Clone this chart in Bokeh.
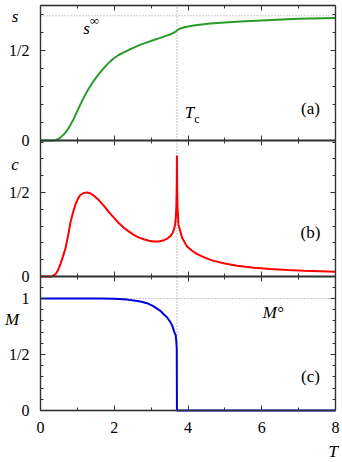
from bokeh.plotting import figure
from bokeh.models import FixedTicker, LinearAxis, Range1d, Label, BoxAnnotation
from bokeh.embed import file_html
from bokeh.resources import INLINE

# ---------------- data ----------------
T_s = [0.0, 0.30, 0.40, 0.47, 0.54, 0.63, 0.72, 0.81, 0.90, 0.99, 1.08, 1.17, 1.27,
       1.36, 1.45, 1.54, 1.63, 1.72, 1.81, 1.90, 1.99, 2.12, 2.26, 2.40, 2.53, 2.70,
       2.89, 3.07, 3.25, 3.40, 3.55, 3.63, 3.70, 3.78, 3.90, 4.15, 4.60, 5.00, 5.42,
       6.26, 7.00, 8.00]
s_vals = [0.0, 0.0, 0.002, 0.007, 0.016, 0.033, 0.056, 0.086, 0.12, 0.16, 0.199, 0.238,
          0.275, 0.305, 0.333, 0.358, 0.381, 0.403, 0.423, 0.441, 0.457, 0.475, 0.49,
          0.504, 0.516, 0.531, 0.545, 0.558, 0.570, 0.581, 0.592, 0.600, 0.611, 0.621,
          0.629, 0.639, 0.650, 0.656, 0.661, 0.670, 0.676, 0.681]

T_c = [0.0, 0.30, 0.41, 0.48, 0.54, 0.61, 0.68, 0.75, 0.81, 0.88, 0.95, 1.02, 1.08,
       1.17, 1.27, 1.36, 1.45, 1.58, 1.72, 1.85, 1.99, 2.12, 2.26, 2.40, 2.53, 2.66,
       2.80, 2.94, 3.07, 3.20, 3.35, 3.45, 3.53, 3.58, 3.62, 3.65, 3.67, 3.685, 3.695,
       3.70, 3.705, 3.715, 3.74, 3.84, 3.97, 4.10, 4.25, 4.50, 4.70, 5.00, 5.33, 5.80,
       6.23, 6.70, 7.14, 7.60, 8.00]
c_vals = [0.0, 0.0, 0.014, 0.04, 0.074, 0.12, 0.17, 0.245, 0.32, 0.38, 0.43, 0.465,
          0.485, 0.497, 0.50, 0.494, 0.48, 0.455, 0.42, 0.385, 0.35, 0.318, 0.29,
          0.267, 0.248, 0.233, 0.222, 0.213, 0.208, 0.208, 0.216, 0.227, 0.242, 0.258,
          0.28, 0.31, 0.35, 0.42, 0.55, 0.72, 0.55, 0.42, 0.31, 0.23, 0.18, 0.155,
          0.133, 0.108, 0.093, 0.077, 0.064, 0.052, 0.044, 0.038, 0.034, 0.031, 0.028]

T_M = [0.0, 1.00, 1.63, 2.00, 2.35, 2.53, 2.71, 2.89, 3.07, 3.25, 3.34, 3.43, 3.52,
       3.57, 3.63, 3.667, 3.685, 3.695, 3.70, 8.00]
M_vals = [1.0, 1.0, 0.999, 0.997, 0.99, 0.982, 0.973, 0.958, 0.93, 0.89, 0.86, 0.833,
          0.79, 0.76, 0.70, 0.67, 0.61, 0.55, 0.0, 0.0]

TC = 3.70        # critical temperature
S_INF = 0.693    # s at infinite T (ln 2)
M_0 = 1.0        # M at zero T

T_MIN, T_MAX = 0, 8
S_TOP, C_TOP, M_TOP = 0.75, 0.8095, 1.1964   # upper ends of the three panels

x_ticks = [0, 2, 4, 6, 8]
x_minor = [1, 3, 5, 7]
x_tick_labels = {0: "0", 2: "2", 4: "4", 6: "6", 8: "8"}
y_ticks_ab = [0, 0.5]
y_labels_ab = {0: "0", 0.5: "1/2"}
y_minor_a = [0.1, 0.2, 0.3, 0.4, 0.6, 0.7]
y_minor_b = [0.1, 0.2, 0.3, 0.4, 0.6, 0.7, 0.8]
y_ticks_c = [0, 0.5, 1]
y_labels_c = {0: "0", 0.5: "1/2", 1: "1"}
y_minor_c = [0.1, 0.2, 0.3, 0.4, 0.6, 0.7, 0.8, 0.9, 1.1]

# ---------------- style / layout ----------------
FONT = "'Liberation Serif', 'Times New Roman', serif"
AX = "#333333"
DOT = "#9a9a9a"
GREEN = "#2a9a2a"
RED = "#ff0000"
BLUE = "#0000dd"
W, H = 342, 462
PX_PER_T = 36.875                  # T=0 at 40 px, T=8 at 335 px
X_RANGE = (-40 / PX_PER_T, T_MAX + 7 / PX_PER_T)
# each panel: (pixel row of its zero line, pixels per unit)
ZERO_A, SCALE_A = 140, 180
ZERO_B, SCALE_B = 276, 168
ZERO_C, SCALE_C = 410, 112

p = figure(width=W, height=H, x_range=Range1d(*X_RANGE),
           y_range=Range1d(-(H - ZERO_C) / SCALE_C, ZERO_C / SCALE_C),
           output_backend="svg", toolbar_location=None,
           x_axis_location=None, y_axis_location=None,
           min_border_left=0, min_border_right=0,
           min_border_top=0, min_border_bottom=0)
p.extra_y_ranges = {
    "a": Range1d(-(H - ZERO_A) / SCALE_A, ZERO_A / SCALE_A),
    "b": Range1d(-(H - ZERO_B) / SCALE_B, ZERO_B / SCALE_B),
}
p.grid.visible = False
p.outline_line_color = None
p.background_fill_color = "white"
p.border_fill_color = "white"


def axis(loc, rng, where, bounds, ticks, minor, labels, standoff=11):
    ax = LinearAxis(ticker=FixedTicker(ticks=ticks, minor_ticks=minor),
                    fixed_location=where, bounds=bounds, y_range_name=rng)
    ax.major_tick_in = 5
    ax.major_tick_out = 0
    ax.minor_tick_in = 3
    ax.minor_tick_out = 0
    ax.axis_line_color = AX
    ax.axis_line_width = 1.3
    ax.major_tick_line_color = AX
    ax.minor_tick_line_color = AX
    if labels:
        ax.major_label_overrides = labels
        ax.major_label_text_font = FONT
        ax.major_label_text_font_size = "16px"
        ax.major_label_text_color = "black"
        ax.major_label_standoff = standoff
    else:
        ax.major_label_text_color = None
    p.add_layout(ax, loc)


def frame(rng, ytop, yticks, yminor, ylabels, xlabels=None):
    p.add_layout(BoxAnnotation(left=T_MIN, right=T_MAX, bottom=0, top=ytop,
                               y_range_name=rng, fill_color=None, fill_alpha=0,
                               line_color=AX, line_width=1.3, level="underlay"))
    axis("left", rng, T_MIN, (0, ytop), yticks, yminor, ylabels, 11)
    axis("right", rng, T_MAX, (0, ytop), yticks, yminor, None)
    axis("above", rng, ytop, (T_MIN, T_MAX), x_ticks, x_minor, None)
    axis("below", rng, 0, (T_MIN, T_MAX), x_ticks, x_minor, xlabels, 11)


def lab(rng, x, y, text, size="17px", italic=True):
    p.add_layout(Label(x=x, y=y, y_range_name=rng, text=text, text_font=FONT,
                       text_font_style="italic" if italic else "normal",
                       text_font_size=size, text_align="center",
                       text_baseline="middle", text_color="black"))


def dotted(rng, xs, ys):
    p.line(xs, ys, y_range_name=rng, line_color=DOT, line_dash="1 2", line_width=1.2)


# ---------------- panel (a): entropy ----------------
dotted("a", [T_MIN, T_MAX], [S_INF, S_INF])
dotted("a", [TC, TC], [0, S_TOP])
p.line(T_s, s_vals, y_range_name="a", line_color=GREEN, line_width=2)
frame("a", S_TOP, y_ticks_ab, y_minor_a, y_labels_ab)
lab("a", -0.69, 0.69, "s")
lab("a", 1.25, 0.62, "s")
lab("a", 1.46, 0.665, "∞", size="13px", italic=False)
lab("a", 4.04, 0.153, "T")
lab("a", 4.24, 0.117, "c", size="12px", italic=False)
lab("a", 7.32, 0.18, "(a)", italic=False)

# ---------------- panel (b): specific heat ----------------
dotted("b", [TC, TC], [0, C_TOP])
p.line(T_c, c_vals, y_range_name="b", line_color=RED, line_width=2)
frame("b", C_TOP, y_ticks_ab, y_minor_b, y_labels_ab)
lab("b", -0.69, 0.667, "c")
lab("b", 7.32, 0.26, "(b)", italic=False)

# ---------------- panel (c): magnetisation ----------------
dotted("default", [T_MIN, T_MAX], [M_0, M_0])
dotted("default", [TC, TC], [0, M_TOP])
p.line(T_M, M_vals, line_color=BLUE, line_width=2)
frame("default", M_TOP, y_ticks_c, y_minor_c, y_labels_c, x_tick_labels)
lab("default", -0.77, 0.81, "M")
lab("default", 6.31, 0.878, "M°")
lab("default", 7.32, 0.30, "(c)", italic=False)
lab("default", 7.94, -0.364, "T")

open("out.html", "w").write(file_html(p, INLINE))
